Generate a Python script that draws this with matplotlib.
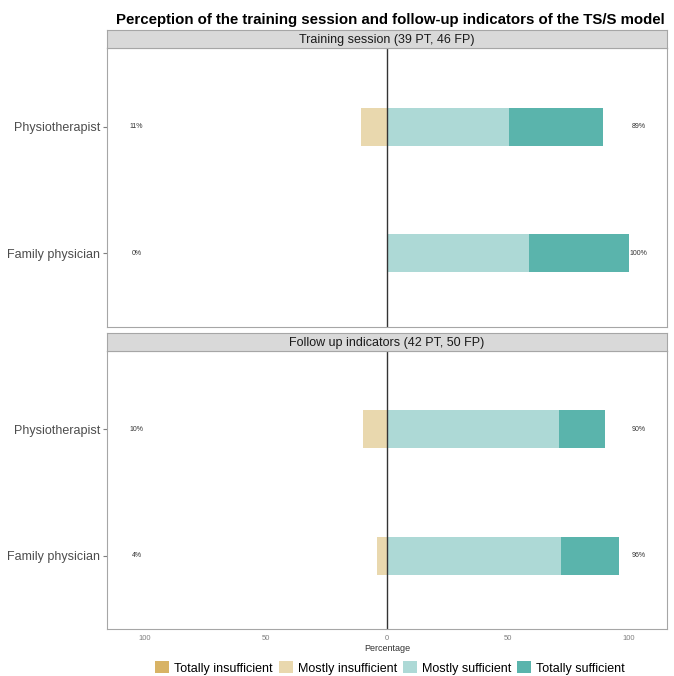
import matplotlib.pyplot as plt
from matplotlib.patches import Patch

plt.rcParams["font.family"] = ["Liberation Sans", "DejaVu Sans"]

# -----------------------------
# Data (percent of respondents)
# -----------------------------
groups = ["Physiotherapist", "Family physician"]
panels = ["Training session (39 PT, 46 FP)", "Follow up indicators (42 PT, 50 FP)"]
levels = ["Totally insufficient", "Mostly insufficient", "Mostly sufficient", "Totally sufficient"]
colors = ["#D8B365", "#E9D8AE", "#ADD9D6", "#5AB4AC"]

# one list per panel, order follows groups
totally_insufficient = [[0.0, 0.0], [0.0, 0.0]]
mostly_insufficient = [[10.7, 0.0], [9.8, 4.0]]
mostly_sufficient = [[50.4, 58.7], [71.2, 72.0]]
totally_sufficient = [[38.9, 41.3], [19.0, 24.0]]

x_ticks = [-100, -50, 0, 50, 100]
x_tick_labels = ["100", "50", "0", "50", "100"]

fig = plt.figure(figsize=(6.74, 6.76), dpi=100)

W, H = 674, 676
panel_boxes = [(48, 327), (351, 629)]
strip_boxes = [(30, 48), (333, 351)]
left_px, right_px = 107, 667

y_pos = [2, 1]  # Physiotherapist on top

for p in range(2):
    top, bot = panel_boxes[p]
    ax = fig.add_axes([left_px / W, 1 - bot / H, (right_px - left_px) / W, (bot - top) / H])

    neg_inner = mostly_insufficient[p]
    neg_outer = totally_insufficient[p]
    pos_inner = mostly_sufficient[p]
    pos_outer = totally_sufficient[p]

    h = 0.3
    ax.barh(y_pos, [-v for v in neg_inner], height=h, color=colors[1], linewidth=0)
    ax.barh(y_pos, [-v for v in neg_outer], left=[-v for v in neg_inner],
            height=h, color=colors[0], linewidth=0)
    ax.barh(y_pos, pos_inner, height=h, color=colors[2], linewidth=0)
    ax.barh(y_pos, pos_outer, left=pos_inner, height=h, color=colors[3], linewidth=0)

    for i, y in enumerate(y_pos):
        low = neg_inner[i] + neg_outer[i]
        high = pos_inner[i] + pos_outer[i]
        ax.text(-103.5, y, f"{low:.0f}%", fontsize=5, color="#333333", ha="center", va="center")
        ax.text(104, y, f"{high:.0f}%", fontsize=5, color="#333333", ha="center", va="center")

    ax.axvline(0, color="#333333", linewidth=1)

    ax.set_xlim(-115.7, 115.7)
    ax.set_ylim(0.42, 2.62)
    ax.set_yticks(y_pos)
    ax.set_yticklabels(groups, fontsize=9, color="#4D4D4D")
    ax.tick_params(axis="y", length=3, color="#7F7F7F", pad=2)
    for s in ax.spines.values():
        s.set_color("#A6A6A6")
        s.set_linewidth(0.8)

    if p == 1:
        ax.set_xticks(x_ticks)
        ax.set_xticklabels(x_tick_labels, fontsize=5.5, color="#7F7F7F")
        ax.tick_params(axis="x", length=0, pad=4)
        ax.set_xlabel("Percentage", fontsize=6.5, color="#333333", labelpad=2)
    else:
        ax.set_xticks([])

    # facet strip
    st, sb = strip_boxes[p]
    sax = fig.add_axes([left_px / W, 1 - sb / H, (right_px - left_px) / W, (sb - st) / H])
    sax.set_facecolor("#D9D9D9")
    sax.set_xticks([])
    sax.set_yticks([])
    for s in sax.spines.values():
        s.set_color("#A6A6A6")
        s.set_linewidth(0.8)
    sax.text(0.5, 0.45, panels[p], transform=sax.transAxes, ha="center", va="center",
             fontsize=9, color="#1A1A1A")

fig.text(116 / W, 1 - 20 / H, "Perception of the training session and follow-up indicators of the TS/S model",
         fontsize=10.85, fontweight="bold", ha="left", va="center")

handles = [Patch(facecolor=c, edgecolor="none") for c in colors]
fig.legend(handles, levels, loc="center", bbox_to_anchor=(390 / W, 1 - 668 / H), ncol=4,
           frameon=False, fontsize=9, handlelength=1.1, handleheight=1.1,
           handletextpad=0.4, columnspacing=0.5)

fig.savefig("out.png", dpi=100)
